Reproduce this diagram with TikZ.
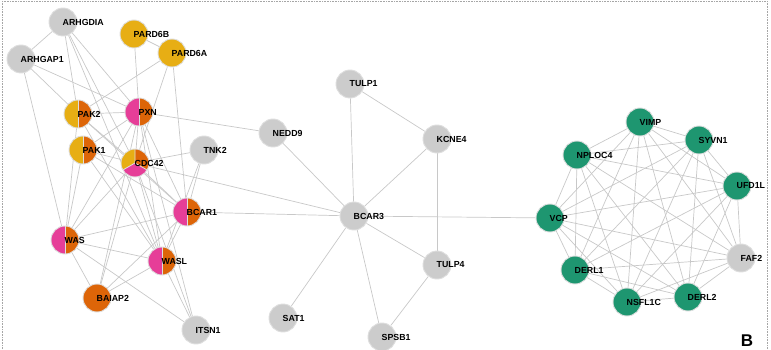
\documentclass[tikz,border=0pt]{standalone}
\usepackage{fontspec}
\setmainfont{Liberation Sans}
\usetikzlibrary{backgrounds}

\definecolor{cyel}{RGB}{231,174,20}
\definecolor{corg}{RGB}{221,101,8}
\definecolor{cpnk}{RGB}{230,62,152}
\definecolor{cgry}{RGB}{204,204,204}
\definecolor{cgrn}{RGB}{30,150,112}
\definecolor{cedge}{RGB}{200,200,200}
\definecolor{crim}{RGB}{222,222,222}

\tikzset{
  gn/.style={circle, minimum size=28pt, inner sep=0pt, draw=crim, line width=0.9pt},
  plain/.style={gn, fill=#1},
  halves/.style 2 args={gn, path picture={
      \fill[#1] (path picture bounding box.south west) rectangle (path picture bounding box.north);
      \fill[#2] (path picture bounding box.south) rectangle (path picture bounding box.north east);
      \draw[crim, line width=0.8pt] (path picture bounding box.south) -- (path picture bounding box.north);}},
  thirds/.style={gn, path picture={
      \coordinate (pc) at (path picture bounding box.center);
      \fill[corg] (pc) -- ++(90:20pt) arc[start angle=90, end angle=-30, radius=20pt] -- cycle;
      \fill[cyel] (pc) -- ++(90:20pt) arc[start angle=90, end angle=210, radius=20pt] -- cycle;
      \fill[cpnk] (pc) -- ++(210:20pt) arc[start angle=210, end angle=330, radius=20pt] -- cycle;
      \draw[crim, line width=0.8pt] (pc) -- ++(90:20pt) (pc) -- ++(210:20pt) (pc) -- ++(330:20pt);}},
  lbl/.style={anchor=west, inner sep=0pt, xshift=-0.5pt, font=\bfseries\fontsize{8.8}{9}\selectfont, text=black},
  link/.style={draw=cedge, line width=0.7pt},
}

% a gene: circle node plus its name written from the centre to the right
\newcommand\gene[4]{%
  \node[#3] (#1) at (#2) {};
  \node[lbl] (#1-t) at (#1.center) {#4};}

\begin{document}
\begin{tikzpicture}[x=1pt, y=-1pt]
\useasboundingbox (0,0) rectangle (771,350);
\draw[gray!70, densely dotted, line width=0.6pt] (2,1) -- (767,1);
\draw[gray!70, densely dotted, line width=0.6pt] (2,1) -- (2,350);
\draw[gray!70, densely dotted, line width=0.6pt] (767,1) -- (767,350);

% left cluster
\gene{ARHGDIA}{63,22}{plain=cgry}{ARHGDIA}
\gene{ARHGAP1}{21,59}{plain=cgry}{ARHGAP1}
\gene{PARD6B}{134,34}{plain=cyel}{PARD6B}
\gene{PARD6A}{172,53}{plain=cyel}{PARD6A}
\gene{PAK2}{78,114}{halves={cyel}{corg}}{PAK2}
\gene{PXN}{139,112}{halves={cpnk}{corg}}{PXN}
\gene{PAK1}{83,150}{halves={cyel}{corg}}{PAK1}
\gene{CDC42}{135,163}{thirds}{CDC42}
\gene{TNK2}{204,150}{plain=cgry}{TNK2}
\gene{BCAR1}{187,212}{halves={cpnk}{corg}}{BCAR1}
\gene{WAS}{65,240}{halves={cpnk}{corg}}{WAS}
\gene{WASL}{162,261}{halves={cpnk}{corg}}{WASL}
\gene{BAIAP2}{97,298}{plain=corg}{BAIAP2}
\gene{ITSN1}{196,330}{plain=cgry}{ITSN1}

% middle star
\gene{NEDD9}{273,133}{plain=cgry}{NEDD9}
\gene{TULP1}{350,84}{plain=cgry}{TULP1}
\gene{KCNE4}{437,139}{plain=cgry}{KCNE4}
\gene{BCAR3}{354,216}{plain=cgry}{BCAR3}
\gene{TULP4}{437,265}{plain=cgry}{TULP4}
\gene{SAT1}{283,318}{plain=cgry}{SAT1}
\gene{SPSB1}{382,337}{plain=cgry}{SPSB1}

% right cluster
\gene{VIMP}{640,122}{plain=cgrn}{VIMP}
\gene{SYVN1}{699,140}{plain=cgrn}{SYVN1}
\gene{NPLOC4}{577,155}{plain=cgrn}{NPLOC4}
\gene{UFD1L}{737,186}{plain=cgrn}{UFD1L}
\gene{VCP}{550,218}{plain=cgrn}{VCP}
\gene{FAF2}{741,258}{plain=cgry}{FAF2}
\gene{DERL1}{575,270}{plain=cgrn}{DERL1}
\gene{DERL2}{688,297}{plain=cgrn}{DERL2}
\gene{NSFL1C}{627,302}{plain=cgrn}{NSFL1C}

\node[font=\bfseries\fontsize{17}{17}\selectfont, inner sep=0pt, anchor=base] (panel) at (747,346) {B};

\begin{scope}[on background layer]
  \foreach \a/\b in {
    ARHGDIA/ARHGAP1, ARHGDIA/PAK2, ARHGDIA/PXN, ARHGDIA/CDC42, ARHGDIA/WASL,
    ARHGAP1/PAK2, ARHGAP1/PXN, ARHGAP1/WAS,
    PARD6B/PARD6A, PARD6B/PXN,
    PARD6A/PAK2, PARD6A/CDC42, PARD6A/BCAR1,
    PAK2/PXN, PAK2/CDC42, PAK2/WAS, PAK2/WASL, PAK2/BCAR1,
    PAK1/CDC42, PAK1/WAS, PAK1/WASL, PAK1/PXN, PAK1/BCAR1,
    PXN/CDC42, PXN/NEDD9, PXN/WAS, PXN/WASL, PXN/BCAR1, PXN/ITSN1, PXN/BAIAP2,
    CDC42/TNK2, CDC42/BCAR3, CDC42/WAS, CDC42/WASL, CDC42/BAIAP2, CDC42/ITSN1, CDC42/BCAR1,
    TNK2/BCAR1, TNK2/WASL,
    BCAR1/BCAR3, BCAR1/WAS, BCAR1/WASL, BCAR1/BAIAP2,
    WAS/WASL, WAS/BAIAP2, WAS/ITSN1,
    WASL/BAIAP2, WASL/ITSN1,
    BCAR3/NEDD9, BCAR3/TULP1, BCAR3/KCNE4, BCAR3/TULP4, BCAR3/SAT1, BCAR3/SPSB1, BCAR3/VCP,
    TULP1/KCNE4, KCNE4/TULP4, TULP4/SPSB1}
    \draw[link] (\a) -- (\b);
  % the ten-member complex is fully linked
  \foreach \a [count=\i] in {VIMP,SYVN1,UFD1L,FAF2,DERL2,NSFL1C,DERL1,VCP,NPLOC4}{
    \foreach \b [count=\j] in {VIMP,SYVN1,UFD1L,FAF2,DERL2,NSFL1C,DERL1,VCP,NPLOC4}{
      \ifnum\j>\i \draw[link] (\a) -- (\b); \fi
    }
  }
\end{scope}
\end{tikzpicture}
\end{document}
